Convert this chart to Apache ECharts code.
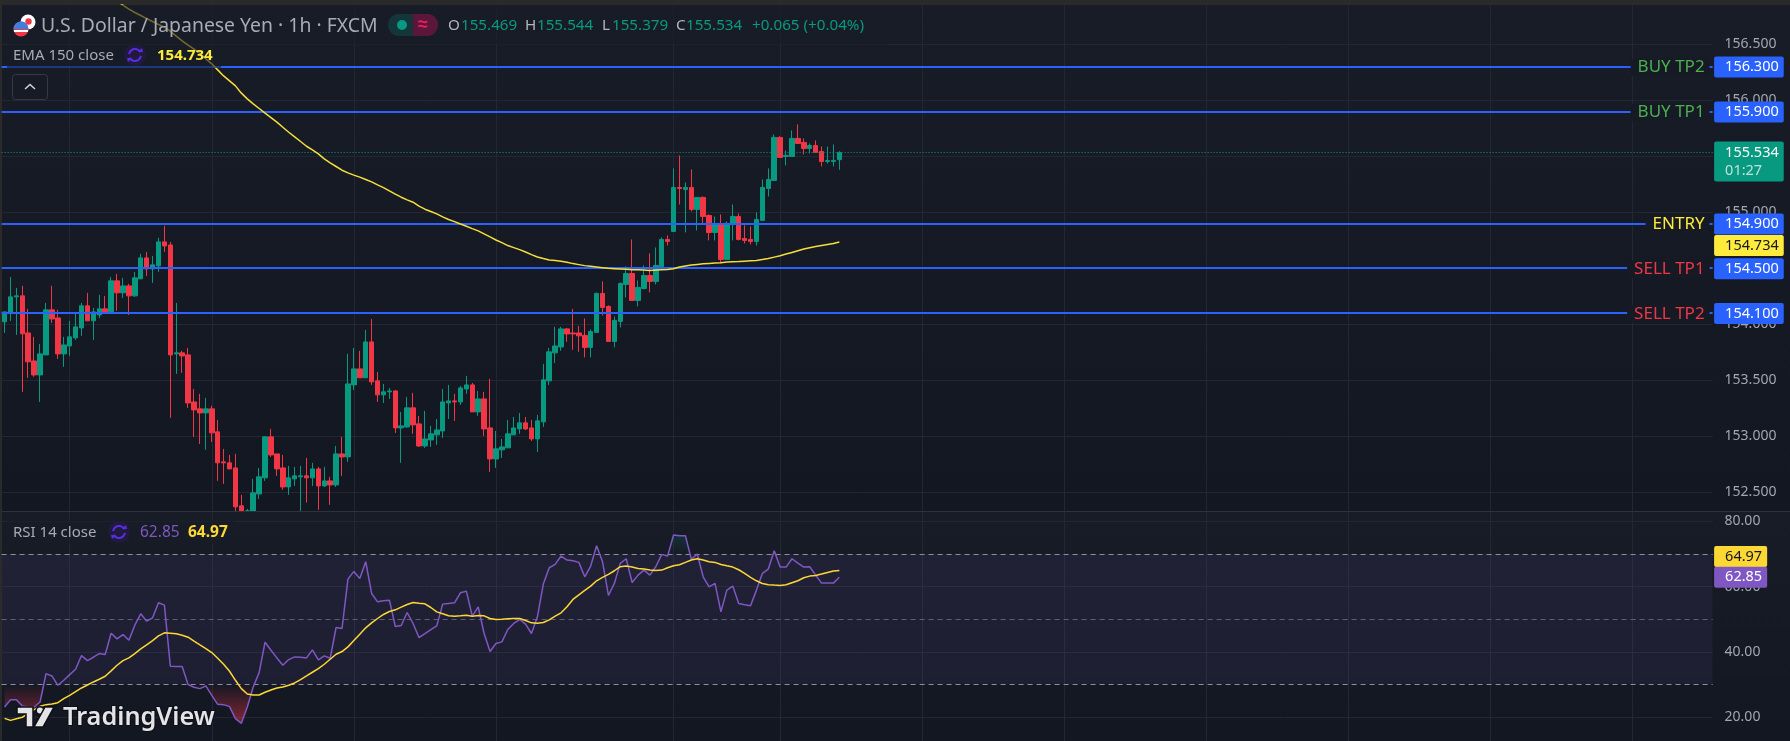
<!DOCTYPE html>
<html><head><meta charset="utf-8">
<style>html,body{margin:0;padding:0;background:#2a2a2a;overflow:hidden}#c{position:absolute;left:0;top:0;width:1790px;height:741px}</style>
<script src="https://cdn.jsdelivr.net/npm/echarts@6/dist/echarts.min.js"></script>
</head><body><div id="c"></div>
<script>
// Candle values, one entry per hourly bar
const openPrices=[154.021,154.101,154.244,154.253,153.922,153.672,153.547,153.726,154.128,154.056,153.735,153.806,153.878,153.967,154.164,154.030,154.083,154.137,154.110,154.387,154.280,154.342,154.253,154.405,154.592,154.494,154.521,154.735,154.708,153.735,153.744,153.726,153.306,153.244,153.208,153.244,153.039,152.771,152.762,152.717,152.378,152.250,152.300,152.485,152.628,152.994,152.842,152.717,152.547,
152.619,152.637,152.646,152.628,152.708,152.556,152.601,152.565,152.842,152.815,153.458,153.601,153.521,153.842,153.494,153.369,153.396,153.404,153.074,153.083,153.253,153.110,152.913,152.967,153.012,153.047,153.297,153.315,153.306,153.422,153.458,153.217,153.333,153.074,152.797,152.878,152.896,153.012,153.065,153.119,153.074,152.976,153.128,153.494,153.744,153.797,153.958,153.922,153.922,
153.900,153.793,153.927,154.275,154.159,153.846,154.025,154.355,154.453,154.212,154.319,154.435,154.382,154.516,154.757,154.828,155.221,155.203,155.221,155.025,155.132,154.971,154.819,154.891,154.578,154.891,154.962,154.766,154.757,154.739,154.927,155.212,155.284,155.668,155.498,155.498,155.659,155.623,155.569,155.596,155.543,155.453,155.453,155.469];
const closePrices=[154.110,154.244,154.253,153.914,153.664,153.547,153.735,154.128,154.047,153.735,153.815,153.887,153.976,154.164,154.030,154.110,154.137,154.110,154.387,154.280,154.342,154.253,154.414,154.592,154.494,154.530,154.735,154.699,153.726,153.744,153.717,153.297,153.235,153.208,153.244,153.030,152.762,152.762,152.708,152.369,152.300,152.300,152.494,152.637,152.994,152.833,152.708,152.547,152.628,
152.646,152.646,152.628,152.708,152.556,152.601,152.565,152.842,152.815,153.467,153.601,153.521,153.842,153.485,153.369,153.396,153.404,153.074,153.092,153.253,153.101,152.913,152.976,153.021,153.056,153.306,153.315,153.306,153.431,153.458,153.217,153.333,153.065,152.797,152.887,152.904,153.021,153.074,153.119,153.065,152.976,153.137,153.503,153.753,153.806,153.958,153.913,153.913,153.896,
153.793,153.935,154.275,154.150,153.846,154.034,154.364,154.453,154.212,154.328,154.435,154.382,154.525,154.757,154.739,155.221,155.212,155.221,155.025,155.132,154.962,154.819,154.891,154.578,154.900,154.962,154.757,154.748,154.739,154.935,155.221,155.293,155.668,155.489,155.507,155.659,155.614,155.569,155.596,155.534,155.453,155.462,155.462,155.534];
const lowPrices=[153.922,154.030,153.905,153.396,153.521,153.530,153.306,153.726,154.012,153.690,153.619,153.717,153.860,153.896,154.030,153.860,154.056,154.092,154.110,154.119,154.235,154.083,154.244,154.405,154.431,154.369,154.467,154.646,153.164,153.556,153.565,153.253,152.994,152.931,152.878,152.949,152.601,152.574,152.708,152.300,152.250,152.200,152.250,152.440,152.601,152.815,152.646,152.521,152.476,
152.556,152.320,152.407,152.556,152.342,152.547,152.387,152.547,152.646,152.771,153.413,153.521,153.521,153.458,153.306,153.297,153.333,153.029,152.762,153.074,153.021,152.904,152.896,152.904,152.922,152.985,153.154,153.137,153.279,153.378,153.217,153.181,153.003,152.681,152.717,152.806,152.896,153.012,153.021,153.056,152.958,152.860,153.083,153.458,153.654,153.762,153.842,153.771,153.753,
153.703,153.703,153.927,154.078,153.846,153.793,153.971,154.239,154.212,154.159,154.310,154.284,154.355,154.516,154.703,154.828,155.069,154.819,155.007,154.837,154.891,154.748,154.748,154.543,154.578,154.748,154.748,154.721,154.712,154.703,154.927,155.141,155.284,155.489,155.418,155.498,155.614,155.516,155.525,155.534,155.409,155.435,155.409,155.379];
const highPrices=[154.110,154.422,154.324,154.342,154.137,153.887,153.824,154.190,154.342,154.128,153.887,154.030,154.110,154.190,154.280,154.146,154.262,154.253,154.422,154.449,154.414,154.360,154.467,154.628,154.646,154.610,154.771,154.878,154.735,154.190,153.762,153.789,153.422,153.378,153.342,153.271,153.146,152.887,152.833,152.842,152.476,152.351,152.619,152.717,153.000,153.065,152.842,152.833,152.735,
152.726,152.735,152.806,152.762,152.726,152.726,152.637,152.913,152.994,153.735,153.788,153.762,153.949,154.047,153.574,153.467,153.431,153.413,153.217,153.351,153.387,153.181,153.226,153.092,153.154,153.422,153.458,153.378,153.449,153.538,153.476,153.404,153.396,153.512,153.047,152.976,153.146,153.172,153.208,153.172,153.146,153.190,153.646,153.788,153.976,153.976,153.967,154.137,153.985,
154.052,153.953,154.284,154.382,154.168,154.069,154.373,154.516,154.757,154.391,154.525,154.632,154.685,154.775,154.793,155.391,155.507,155.266,155.382,155.132,155.141,154.980,154.962,154.980,154.918,155.069,154.989,154.882,154.873,154.998,155.293,155.391,155.694,155.677,155.552,155.730,155.784,155.659,155.614,155.641,155.587,155.587,155.605,155.544];
const emaValues=[null,null,null,null,null,null,null,null,null,null,null,null,null,null,null,null,null,null,null,156.884,156.848,156.813,156.783,156.756,156.729,156.703,156.676,156.652,156.616,156.572,156.530,156.491,156.456,156.417,156.369,156.325,156.271,156.217,156.173,156.128,156.063,156.012,155.967,155.926,155.884,155.845,155.804,155.759,155.714,155.673,155.631,155.589,155.557,155.521,155.476,155.441,155.408,155.375,155.351,155.331,155.313,155.292,155.271,155.244,155.220,155.191,155.161,155.134,155.110,155.089,155.054,155.027,155.006,154.985,154.958,154.935,
154.916,154.895,154.874,154.853,154.833,154.806,154.779,154.752,154.728,154.702,154.684,154.666,154.645,154.621,154.600,154.586,154.574,154.568,154.562,154.553,154.541,154.532,154.523,154.517,154.511,154.505,154.499,154.496,154.493,154.490,154.487,154.487,154.484,
154.480,154.483,154.486,154.489,154.495,154.510,154.519,154.528,154.534,154.540,154.543,154.546,154.549,154.555,154.558,154.560,154.563,154.566,154.569,154.578,154.587,154.599,154.611,154.626,154.641,154.656,154.671,154.683,154.694,154.703,154.712,154.721,154.734];
const rsiValues=[23.14,25.39,25.39,23.45,23.14,23.14,24.68,33.37,32.65,29.79,31.32,33.06,34.70,38.89,37.36,38.38,39.50,39.20,45.74,44.00,45.33,43.59,48.19,51.67,49.42,50.44,55.04,54.33,35.62,35.51,35.51,29.99,29.18,28.77,29.59,26.72,23.96,23.86,23.25,19.56,18.13,23.14,29.28,33.67,42.98,40.53,38.17,35.92,37.66,38.48,38.38,38.17,40.63,37.56,38.79,38.07,47.48,47.17,62.30,64.66,62.51,67.62,57.91,55.35,55.66,55.86,47.79,48.09,52.08,48.71,44.41,45.64,46.86,47.99,54.64,54.84,
55.04,58.11,58.62,50.95,53.82,45.64,40.12,42.57,43.08,46.86,48.71,49.93,48.50,45.64,50.75,60.77,65.78,66.80,69.36,68.13,67.93,67.42,63.02,66.29,72.53,67.62,57.29,60.97,67.11,68.54,61.28,63.53,65.06,63.53,66.09,69.87,69.36,75.80,75.60,75.60,68.34,69.97,63.02,59.95,60.97,52.28,58.93,60.16,54.84,54.43,54.12,58.93,64.04,65.37,70.99,65.99,65.99,68.54,67.21,65.99,66.09,63.53,61.08,61.08,61.08,62.85];
const rsiMaValues=[19.67,19.05,19.56,19.97,21.30,22.33,23.35,23.86,24.06,24.47,25.70,26.72,27.85,28.97,29.89,30.81,31.63,32.55,34.19,35.92,37.36,38.17,39.50,40.93,42.16,43.49,44.92,45.84,45.74,45.54,45.13,44.51,43.29,42.16,41.04,39.81,38.07,36.23,34.08,31.32,28.77,27.13,26.82,26.82,27.64,28.36,28.97,29.28,29.79,30.50,31.53,32.65,33.78,34.90,36.23,37.76,39.30,40.12,41.55,43.49,45.43,47.38,48.91,50.24,51.47,52.39,52.90,53.72,54.53,55.15,54.94,54.74,53.61,52.28,51.67,51.06,
50.95,51.06,51.26,50.95,51.16,51.06,50.24,49.93,50.03,50.14,50.24,50.24,49.63,48.91,48.81,49.01,49.83,50.95,51.98,53.82,56.07,57.50,58.83,60.16,61.79,62.82,63.74,64.86,66.09,66.29,65.99,65.58,65.37,65.06,64.96,65.06,65.78,66.39,66.70,67.42,68.14,68.54,68.14,67.62,67.42,66.80,66.39,65.99,65.17,64.04,62.82,61.79,60.97,60.57,60.46,60.36,60.57,61.18,61.79,62.71,63.22,63.43,63.84,64.35,64.76,64.97];
const slotCount=289;
const categories=Array.from({length:slotCount},(_,i)=>String(i));
const timeGridSlots=[11,35,59,83,113,131,155,179,203,227,251,275];
const priceTicks=[152.5,153,153.5,154,154.5,155,155.5,156,156.5];
const rsiTicks=[20,40,60,80];
const rsiLevels=[70,50,30];
const levelPrices=[156.3,155.9,154.9,154.5,154.1];
const levelNames=['BUY TP2','BUY TP1','ENTRY','SELL TP1','SELL TP2'];
const levelColors=['#4caf50','#4caf50','#ffeb3b','#f23645','#f23645'];
const lastPrice=155.534, lastEma=154.734, lastRsi=62.85, lastRsiMa=64.97;
const priceFloor=152.333, priceCeil=156.851, rsiFloor=12.73, rsiCeil=82.85;

const font='"Noto Sans",sans-serif';
const UP='#089981',DOWN='#f23645',BLUE='#2962ff',GRID='#232733';
// Candlesticks are only dropped when fully outside the pane, so partly visible bars are held at the pane floor
const atFloor=v=>Math.max(v,priceFloor);
const ohlc=openPrices.map((o,i)=>[atFloor(o),atFloor(closePrices[i]),atFloor(lowPrices[i]),atFloor(highPrices[i])]);

function txt(x,y,text,fill,size,weight,extra){
  return {type:'text',z:60,silent:true,x,y,style:Object.assign({text,fill,font:(weight||'normal')+' '+(size||14)+'px '+font,textVerticalAlign:'middle',textBaseline:'middle'},extra||{})};
}
function refresh(cx,cy){
  return [
   {type:'circle',z:58,silent:true,shape:{cx,cy,r:11},style:{fill:'#1f1a3e'}},
   {type:'arc',z:59,silent:true,shape:{cx,cy,r:6,startAngle:Math.PI*1.05,endAngle:Math.PI*1.85},style:{stroke:'#5b2de0',fill:'none',lineWidth:2}},
   {type:'arc',z:59,silent:true,shape:{cx,cy,r:6,startAngle:Math.PI*0.05,endAngle:Math.PI*0.85},style:{stroke:'#5b2de0',fill:'none',lineWidth:2}},
   {type:'polygon',z:59,silent:true,shape:{points:[[cx+3,cy-3],[cx+8,cy-3],[cx+7,cy-7]]},style:{fill:'#5b2de0'}},
   {type:'polygon',z:59,silent:true,shape:{points:[[cx-3,cy+3],[cx-8,cy+3],[cx-7,cy+7]]},style:{fill:'#5b2de0'}}
  ];
}
const vGrad=(a,b)=>({type:'linear',x:0,y:0,x2:0,y2:1,colorStops:[{offset:0,color:a},{offset:1,color:b}]});
const stripes={type:'linear',x:0,y:0,x2:0,y2:1,colorStops:[{offset:0,color:'#f23645'},{offset:.28,color:'#f23645'},{offset:.28,color:'#fff'},{offset:.42,color:'#fff'},{offset:.42,color:'#f23645'},{offset:.56,color:'#f23645'},{offset:.56,color:'#fff'},{offset:.7,color:'#fff'},{offset:.7,color:'#f23645'},{offset:1,color:'#f23645'}]};

const graphicEls=[
 {type:'rect',z:-20,silent:true,shape:{x:2,y:5,width:1788,height:506},style:{fill:vGrad('#181c27','#131722')}},
 {type:'rect',z:-20,silent:true,shape:{x:2,y:512,width:1788,height:229},style:{fill:vGrad('#181c27','#131722')}},
 {type:'rect',z:40,silent:true,shape:{x:2,y:511,width:1788,height:1},style:{fill:'#2e323d'}},
 {type:'rect',z:50,silent:true,shape:{x:7,y:5,width:880,height:40},style:{fill:'rgba(24,28,39,0.6)'}},
 {type:'rect',z:50,silent:true,shape:{x:7,y:45,width:214,height:23},style:{fill:'rgba(24,28,39,0.6)'}},
 {type:'rect',z:50,silent:true,shape:{x:7,y:520,width:228,height:24},style:{fill:'rgba(24,28,39,0.6)'}},
 // flags
 {type:'circle',z:58,silent:true,shape:{cx:28,cy:22,r:7.5},style:{fill:'#fff'}},
 {type:'circle',z:59,silent:true,shape:{cx:28.5,cy:21.5,r:3.2},style:{fill:'#f23645'}},
 {type:'circle',z:59,silent:true,shape:{cx:21,cy:29,r:7.5},style:{fill:stripes}},
 {type:'sector',z:59,silent:true,shape:{cx:21,cy:29,r0:0,r:7.5,startAngle:Math.PI,endAngle:Math.PI*2},style:{fill:'#3d7fe0'}},
 // title row
 txt(41,26,'U.S. Dollar / Japanese Yen · 1h · FXCM','#a8abb7',19.4),
 {type:'rect',z:58,silent:true,shape:{x:388,y:14,width:50,height:22,r:11},style:{fill:'#14363a'}},
 {type:'rect',z:59,silent:true,shape:{x:413,y:14,width:25,height:22,r:[0,11,11,0]},style:{fill:'#5a1739'}},
 {type:'circle',z:60,silent:true,shape:{cx:402,cy:25,r:5},style:{fill:'#089981'}},
 txt(418,25,'≈','#e91e63',18,'bold'),
 txt(448,25.5,'O','#b2b5be',15.2),txt(461,25.5,'155.469',UP,15.2),
 txt(525,25.5,'H','#b2b5be',15.2),txt(537,25.5,'155.544',UP,15.2),
 txt(602,25.5,'L','#b2b5be',15.2),txt(612,25.5,'155.379',UP,15.2),
 txt(676,25.5,'C','#b2b5be',15.2),txt(686,25.5,'155.534',UP,15.2),
 txt(752,25.5,'+0.065 (+0.04%)',UP,15.2),
 // EMA legend
 txt(13,55.5,'EMA 150 close','#a8abb7',15),
 ...refresh(135,55),
 txt(157,55.5,'154.734','#ffeb3b',15,'bold'),
 // collapse button
 {type:'rect',z:58,silent:true,shape:{x:12.5,y:74.5,width:35,height:25,r:3},style:{fill:'rgba(24,28,39,0.8)',stroke:'#363a45',lineWidth:1}},
 {type:'polyline',z:59,silent:true,shape:{points:[[25,89],[30,84.5],[35,89]]},style:{stroke:'#d1d4dc',fill:'none',lineWidth:1.5}},
 // RSI legend
 txt(13,533,'RSI 14 close','#a8abb7',15),
 ...refresh(119,532),
 txt(140,533,'62.85','#7e57c2',15.5),
 txt(188,533,'64.97','#fdd835',15.5,'bold'),
 // TradingView logo
 {type:'polygon',z:60,silent:true,shape:{points:[[17,707],[33,707],[33,727],[26,727],[26,714],[17,714]]},style:{fill:'#e4e4e7',stroke:'#0c0f16',lineWidth:1.5}},
 {type:'circle',z:60,silent:true,shape:{cx:40,cy:710.5,r:3.8},style:{fill:'#e4e4e7',stroke:'#0c0f16',lineWidth:1.5}},
 {type:'polygon',z:60,silent:true,shape:{points:[[45,707],[54,707],[43,727],[34,727]]},style:{fill:'#e4e4e7',stroke:'#0c0f16',lineWidth:1.5}},
 txt(63,717.5,'TradingView','#e4e4e7',25.3,'600',{stroke:'#0c0f16',lineWidth:2})
];

const valueTag=(val,bg,fg,offY,txtStr)=>({
  yAxis:val,
  lineStyle:{color:'transparent',width:0},
  label:{show:true,position:'end',distance:1.5,formatter:txtStr,offset:[0,offY||0],color:fg,backgroundColor:bg,borderRadius:2,
    fontFamily:font,fontSize:14.5,lineHeight:15,padding:[3,5,3,11]}
});
const levelLines=[];
levelPrices.forEach((p,i)=>{
  levelLines.push({yAxis:p,lineStyle:{color:BLUE,width:2,type:'solid'},
    label:{show:true,position:'insideEnd',distance:3,offset:[0,1],formatter:levelNames[i],color:levelColors[i],fontFamily:font,fontSize:17,backgroundColor:'#161a25',padding:[0,5,0,7]}});
  levelLines.push(valueTag(p,BLUE,'#fff',0.5,p.toFixed(3)));
});
levelLines.push({yAxis:lastPrice,lineStyle:{color:UP,width:1,type:[1,2]},
  label:{show:true,position:'end',distance:1.5,offset:[0,9],formatter:lastPrice.toFixed(3)+'\n{t|01:27}',color:'#fff',backgroundColor:UP,borderRadius:2,fontFamily:font,fontSize:14.5,lineHeight:18,padding:[2,5,2,11],rich:{t:{color:'#bfe3da',fontFamily:font,fontSize:14.5,lineHeight:18}}}});
levelLines.push(valueTag(lastEma,'#ffeb3b','#131722',3.4,lastEma.toFixed(3)));

const rsiLines=rsiLevels.map(v=>({yAxis:v,lineStyle:{color:v===50?'#5d6070':'#8d909c',width:1,type:[5,4]},label:{show:false}}));
rsiLines.push(valueTag(lastRsiMa,'#fdd835','#131722',-14,lastRsiMa.toFixed(2)));
rsiLines.push(valueTag(lastRsi,'#7e57c2','#fff',0,lastRsi.toFixed(2)));

const axisCommon=(ticks,dec)=>({
  type:'value',position:'right',scale:false,
  axisLine:{show:false},axisTick:{show:false,customValues:ticks},
  splitLine:{show:true,lineStyle:{color:GRID,width:1}},
  axisLabel:{show:true,customValues:ticks,margin:12,color:'#a3a6af',fontFamily:font,fontSize:14,
    hideOverlap:false,showMinLabel:true,showMaxLabel:true,formatter:v=>v.toFixed(dec)}
});
const xAxisCommon=gi=>({type:'category',gridIndex:gi,data:categories,boundaryGap:true,
  axisLine:{show:false},axisTick:{show:false},axisLabel:{show:false},
  splitLine:{show:true,alignWithLabel:true,interval:i=>timeGridSlots.includes(i),lineStyle:{color:GRID,width:1}}});

const chart=echarts.init(document.getElementById('c'),null,{renderer:'canvas',width:1790,height:741});
chart.setOption({
  animation:false,
  backgroundColor:'transparent',
  textStyle:{fontFamily:font},
  grid:[
    {left:1.6,top:4.9,width:1711,height:506,containLabel:false},
    {left:1.6,top:512,width:1711,height:229,containLabel:false}
  ],
  xAxis:[xAxisCommon(0),xAxisCommon(1)],
  yAxis:[
    Object.assign(axisCommon(priceTicks,3),{gridIndex:0,min:priceFloor,max:priceCeil}),
    Object.assign(axisCommon(rsiTicks,2),{gridIndex:1,min:rsiFloor,max:rsiCeil})
  ],
  graphic:{elements:graphicEls},
  series:[
    {name:'USDJPY',type:'candlestick',xAxisIndex:0,yAxisIndex:0,data:ohlc,barWidth:5,clip:true,z:3,
      itemStyle:{color:UP,color0:DOWN,borderColor:UP,borderColor0:DOWN,borderWidth:1},
      markLine:{silent:true,symbol:'none',precision:3,animation:false,data:levelLines}},
    {name:'EMA',type:'line',xAxisIndex:0,yAxisIndex:0,data:emaValues,showSymbol:false,symbol:'none',clip:true,z:8,
      lineStyle:{color:'#f5df3a',width:1.5}},
    {name:'RSI band',type:'line',xAxisIndex:1,yAxisIndex:1,data:[],silent:true,
      markArea:{silent:true,itemStyle:{color:'rgba(126,87,194,0.10)'},data:[[{yAxis:30},{yAxis:70}]]}},
    {name:'RSI oversold',type:'line',xAxisIndex:1,yAxisIndex:1,data:rsiValues.map(v=>Math.min(v,30)),showSymbol:false,symbol:'none',silent:true,z:3,
      lineStyle:{width:0},areaStyle:{origin:30,opacity:1,color:{type:'linear',global:true,x:0,y:684,x2:0,y2:717,colorStops:[{offset:0,color:'rgba(242,54,69,0)'},{offset:1,color:'rgba(242,54,69,0.42)'}]}}},
    {name:'RSI overbought',type:'line',xAxisIndex:1,yAxisIndex:1,data:rsiValues.map(v=>Math.max(v,70)),showSymbol:false,symbol:'none',silent:true,z:3,
      lineStyle:{width:0},areaStyle:{origin:70,opacity:1,color:{type:'linear',global:true,x:0,y:554,x2:0,y2:521,colorStops:[{offset:0,color:'rgba(8,153,129,0)'},{offset:1,color:'rgba(8,153,129,0.3)'}]}}},
    {name:'RSI',type:'line',xAxisIndex:1,yAxisIndex:1,data:rsiValues,showSymbol:false,symbol:'none',z:5,
      lineStyle:{color:'#7e57c2',width:1.5},
      markLine:{silent:true,symbol:'none',precision:2,animation:false,data:rsiLines}},
    {name:'RSI MA',type:'line',xAxisIndex:1,yAxisIndex:1,data:rsiMaValues,showSymbol:false,symbol:'none',z:6,
      lineStyle:{color:'#fdd835',width:1.5}}
  ]
});
</script></body></html>
